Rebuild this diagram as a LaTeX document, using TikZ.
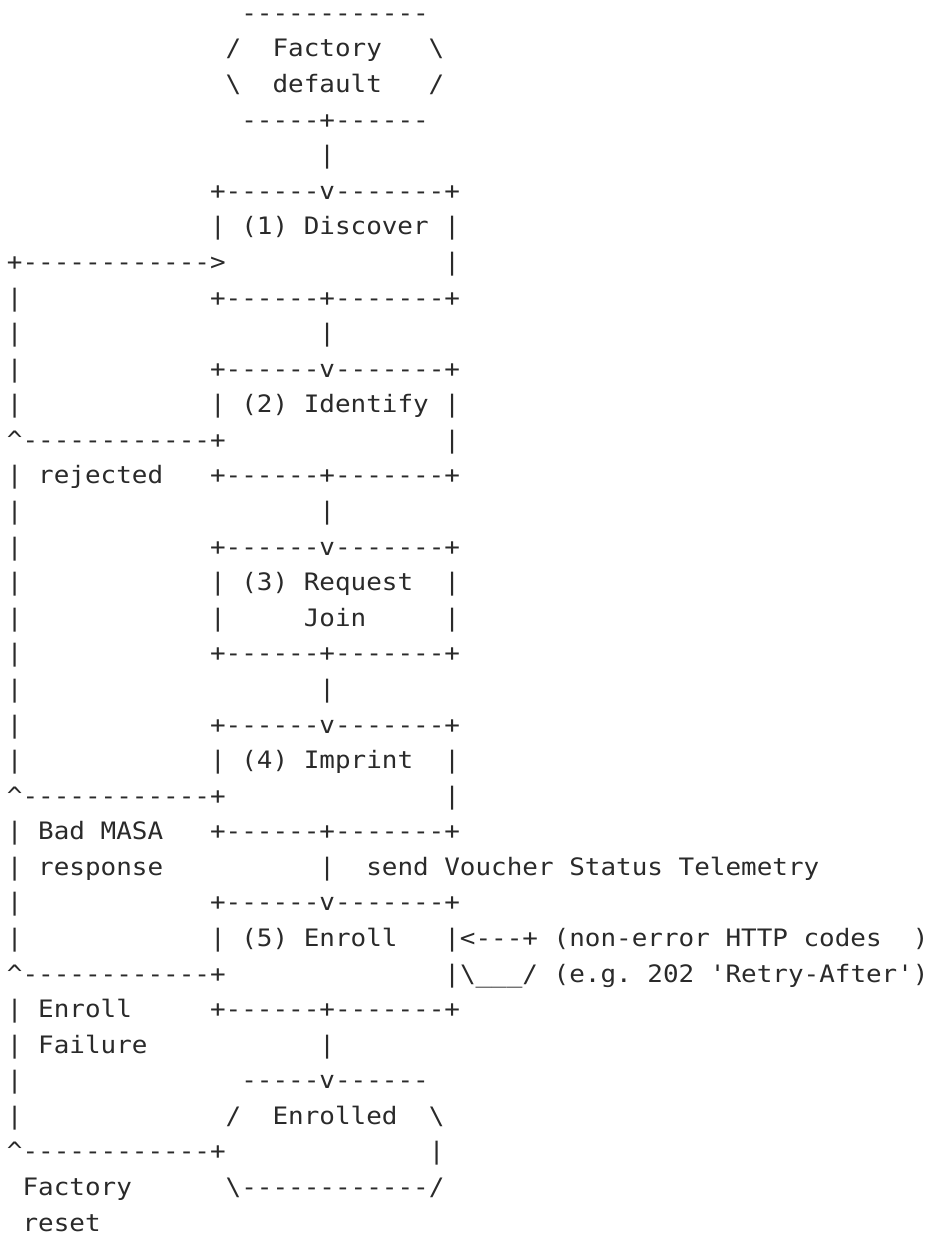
\documentclass[tikz,border=0pt]{standalone}
\usepackage{fontspec}
\setmonofont{DejaVu Sans Mono}
\definecolor{ink}{HTML}{2A2A2A}
\newcommand\xo{7.0}
\newcommand\yo{57.0}
\newcommand\adv{15.62}
\newcommand\lsp{35.58}
\tikzset{txt/.style={font=\ttfamily\fontsize{24}{24}\selectfont, text=ink, anchor=base west, inner sep=0pt, outer sep=0pt, xscale=1.0811}}
\newcommand\Row[4]{\node[txt] (#1) at ({\xo+#2*\adv},{\yo+(#3-2)*\lsp}) {#4};}
\newcommand\dd{------------}
\begin{document}
\begin{tikzpicture}[x=1pt,y=-1pt]
\useasboundingbox (0,0) rectangle (930,1236);
\Row{l1}{15}{1}{\dd}
\Row{l2}{14}{2}{/~~Factory~~~\textbackslash}
\Row{l3}{14}{3}{\textbackslash~~default~~~/}
\Row{l4}{15}{4}{-----+------}
\Row{l5}{20}{5}{|}
\Row{l6}{13}{6}{+------v-------+}
\Row{l7}{13}{7}{|~(1)~Discover~|}
\Row{l8}{0}{8}{+\dd>~~~~~~~~~~~~~~|}
\Row{l9}{0}{9}{|~~~~~~~~~~~~+------+-------+}
\Row{l10}{0}{10}{|~~~~~~~~~~~~~~~~~~~|}
\Row{l11}{0}{11}{|~~~~~~~~~~~~+------v-------+}
\Row{l12}{0}{12}{|~~~~~~~~~~~~|~(2)~Identify~|}
\Row{l13}{0}{13}{\textasciicircum\dd+~~~~~~~~~~~~~~|}
\Row{l14}{0}{14}{|~rejected~~~+------+-------+}
\Row{l15}{0}{15}{|~~~~~~~~~~~~~~~~~~~|}
\Row{l16}{0}{16}{|~~~~~~~~~~~~+------v-------+}
\Row{l17}{0}{17}{|~~~~~~~~~~~~|~(3)~Request~~|}
\Row{l18}{0}{18}{|~~~~~~~~~~~~|~~~~~Join~~~~~|}
\Row{l19}{0}{19}{|~~~~~~~~~~~~+------+-------+}
\Row{l20}{0}{20}{|~~~~~~~~~~~~~~~~~~~|}
\Row{l21}{0}{21}{|~~~~~~~~~~~~+------v-------+}
\Row{l22}{0}{22}{|~~~~~~~~~~~~|~(4)~Imprint~~|}
\Row{l23}{0}{23}{\textasciicircum\dd+~~~~~~~~~~~~~~|}
\Row{l24}{0}{24}{|~Bad~MASA~~~+------+-------+}
\Row{l25}{0}{25}{|~response~~~~~~~~~~|~~send~Voucher~Status~Telemetry}
\Row{l26}{0}{26}{|~~~~~~~~~~~~+------v-------+}
\Row{l27}{0}{27}{|~~~~~~~~~~~~|~(5)~Enroll~~~|<---+~(non-error~HTTP~codes~~)}
\Row{l28}{0}{28}{\textasciicircum\dd+~~~~~~~~~~~~~~|\textbackslash\_\_\_/~(e.g.~202~'Retry-After')}
\Row{l29}{0}{29}{|~Enroll~~~~~+------+-------+}
\Row{l30}{0}{30}{|~Failure~~~~~~~~~~~|}
\Row{l31}{0}{31}{|~~~~~~~~~~~~~~-----v------}
\Row{l32}{0}{32}{|~~~~~~~~~~~~~/~~Enrolled~~\textbackslash}
\Row{l33}{0}{33}{\textasciicircum\dd+~~~~~~~~~~~~~|}
\Row{l34}{1}{34}{Factory~~~~~~\textbackslash\dd/}
\Row{l35}{1}{35}{reset}
\end{tikzpicture}
\end{document}
